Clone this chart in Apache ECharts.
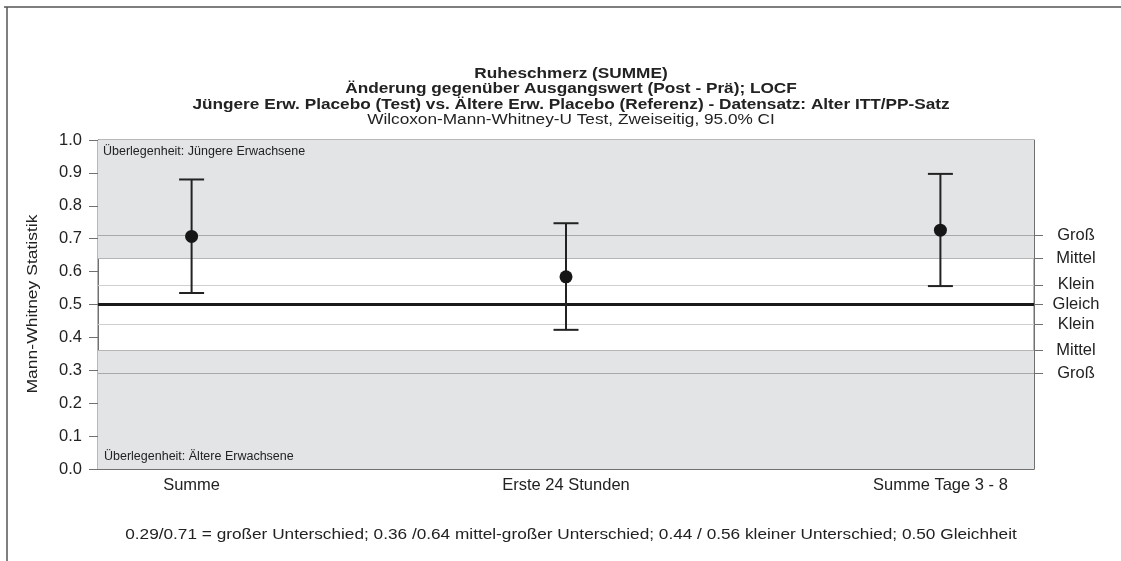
<!DOCTYPE html>
<html>
<head>
<meta charset="utf-8">
<script src="https://cdn.jsdelivr.net/npm/echarts@6/dist/echarts.min.js"></script>
<style>
html,body{margin:0;padding:0;background:#fff;}
#chart{width:1121px;height:561px;}
</style>
</head>
<body>
<div id="chart"></div>
<script>
const categories = ['Summe', 'Erste 24 Stunden', 'Summe Tage 3 - 8'];
const estimates = [0.707, 0.584, 0.726];
const lowerCI = [0.535, 0.423, 0.556];
const upperCI = [0.880, 0.747, 0.897];
const yTicks = [0, 0.1, 0.2, 0.3, 0.4, 0.5, 0.6, 0.7, 0.8, 0.9, 1.0];
const thresholdValues = [0.29, 0.36, 0.44, 0.5, 0.56, 0.64, 0.71];
const thresholdLabels = ['Groß', 'Mittel', 'Klein', 'Gleich', 'Klein', 'Mittel', 'Groß'];
const titleLines = [
  'Ruheschmerz (SUMME)',
  'Änderung gegenüber Ausgangswert (Post - Prä); LOCF',
  'Jüngere Erw. Placebo (Test) vs. Ältere Erw. Placebo (Referenz) - Datensatz: Alter ITT/PP-Satz'
];
const subtitleText = 'Wilcoxon-Mann-Whitney-U Test, Zweiseitig, 95.0% CI';
const footerText = '0.29/0.71 = großer Unterschied; 0.36 /0.64 mittel-großer Unterschied; 0.44 / 0.56 kleiner Unterschied; 0.50 Gleichheit';
const upperRegionLabel = 'Überlegenheit: Jüngere Erwachsene';
const lowerRegionLabel = 'Überlegenheit: Ältere Erwachsene';
const yAxisName = 'Mann-Whitney Statistik';

const FONT = '"Liberation Sans", Arial, sans-serif';
const TXT = '#222';
const AX = '#707070';
const SX = 1.23;
const AXFS = 16.5;

const chart = echarts.init(document.getElementById('chart'), null, {renderer: 'canvas'});

const xPos = categories.map((c, i) => i + 1);
const errData = xPos.map((x, i) => [x, lowerCI[i], upperCI[i]]);
const ptData = xPos.map((x, i) => [x, estimates[i]]);

const lineStyleFor = v => {
  if (v === 0.5) return {color: '#1a1a1a', width: 3, type: 'solid'};
  if (v === 0.71 || v === 0.29) return {color: '#a9a9a9', width: 1, type: 'solid'};
  if (v === 0.64 || v === 0.36) return {color: '#b5b5b5', width: 1, type: 'solid'};
  return {color: '#cfcfcf', width: 1, type: 'solid'};
};

const textLine = (txt, y, bold, fs) => ({
  type: 'text', x: 571, y: y, scaleX: SX, silent: true,
  style: {text: txt, fill: TXT, font: (bold ? 'bold ' : '') + fs + 'px ' + FONT,
          textAlign: 'center', textVerticalAlign: 'middle'}
});

const option = {
  backgroundColor: '#fff',
  animation: false,
  textStyle: {fontFamily: FONT},
  graphic: [
    {type: 'line', shape: {x1: 4, y1: 7, x2: 1121, y2: 7}, style: {stroke: '#555', lineWidth: 1.5}},
    {type: 'line', shape: {x1: 7, y1: 7, x2: 7, y2: 561}, style: {stroke: '#555', lineWidth: 1.5}},
    textLine(titleLines[0], 74, true, 14),
    textLine(titleLines[1], 89.5, true, 14),
    textLine(titleLines[2], 105, true, 14),
    textLine(subtitleText, 120.5, false, 14),
    textLine(footerText, 535, false, 14),
    {
      type: 'text', x: 33, y: 304, rotation: Math.PI / 2, scaleX: 1.25, silent: true,
      style: {text: yAxisName, fill: TXT, font: '14px ' + FONT, textAlign: 'center', textVerticalAlign: 'middle'}
    }
  ],
  grid: {
    left: 98, right: 87, top: 140, bottom: 92,
    show: true, borderColor: AX, borderWidth: 1, backgroundColor: 'transparent'
  },
  xAxis: {
    type: 'value', min: 0.75, max: 3.25,
    axisLine: {show: true, onZero: false, lineStyle: {color: AX}},
    axisTick: {show: false},
    splitLine: {show: false},
    axisLabel: {
      customValues: xPos,
      formatter: v => categories[Math.round(v) - 1] || '',
      fontFamily: FONT, fontSize: AXFS, color: TXT, margin: 8
    }
  },
  yAxis: [
    {
      type: 'value', min: 0, max: 1, interval: 0.1,
      axisLine: {show: true, lineStyle: {color: AX}},
      axisTick: {show: true, length: 9, lineStyle: {color: AX}},
      splitLine: {show: false},
      axisLabel: {
        customValues: yTicks,
        formatter: v => v.toFixed(1),
        fontFamily: FONT, fontSize: AXFS, color: TXT, margin: 16
      }
    },
    {
      type: 'value', min: 0, max: 1, position: 'right',
      axisLine: {show: true, lineStyle: {color: AX}},
      axisTick: {show: true, length: 9, customValues: thresholdValues, lineStyle: {color: AX}},
      splitLine: {show: false},
      axisLabel: {
        customValues: thresholdValues,
        formatter: v => thresholdLabels[thresholdValues.indexOf(Math.round(v * 100) / 100)] || '',
        fontFamily: FONT, fontSize: AXFS, color: TXT, margin: 42, align: 'center'
      }
    }
  ],
  series: [
    {
      type: 'line', data: [], silent: true, z: 1,
      markArea: {
        silent: true,
        itemStyle: {color: '#e3e4e6'},
        label: {fontFamily: FONT, fontSize: 12.5, color: TXT},
        data: [
          [{xAxis: 'min', yAxis: 0.64, name: upperRegionLabel, label: {position: 'insideTopLeft', distance: 5}},
           {xAxis: 'max', yAxis: 1}],
          [{xAxis: 'min', yAxis: 0, name: lowerRegionLabel, label: {position: 'insideBottomLeft', distance: 6}},
           {xAxis: 'max', yAxis: 0.36}]
        ]
      },
      markLine: {
        silent: true, symbol: 'none', label: {show: false},
        data: thresholdValues.map(v => ({yAxis: v, lineStyle: lineStyleFor(v)}))
      }
    },
    {
      type: 'custom', z: 5, silent: true,
      data: errData,
      renderItem: (params, api) => {
        const x = api.value(0);
        const lo = api.coord([x, api.value(1)]);
        const hi = api.coord([x, api.value(2)]);
        const hw = 12.5;
        const st = {stroke: '#222', lineWidth: 2};
        return {
          type: 'group',
          children: [
            {type: 'line', shape: {x1: lo[0], y1: lo[1], x2: hi[0], y2: hi[1]}, style: st},
            {type: 'line', shape: {x1: hi[0] - hw, y1: hi[1], x2: hi[0] + hw, y2: hi[1]}, style: st},
            {type: 'line', shape: {x1: lo[0] - hw, y1: lo[1], x2: lo[0] + hw, y2: lo[1]}, style: st}
          ]
        };
      }
    },
    {
      type: 'scatter', z: 6, silent: true,
      data: ptData, symbol: 'circle', symbolSize: 13,
      itemStyle: {color: '#161616', opacity: 1}
    }
  ]
};
chart.setOption(option);
</script>
</body>
</html>
